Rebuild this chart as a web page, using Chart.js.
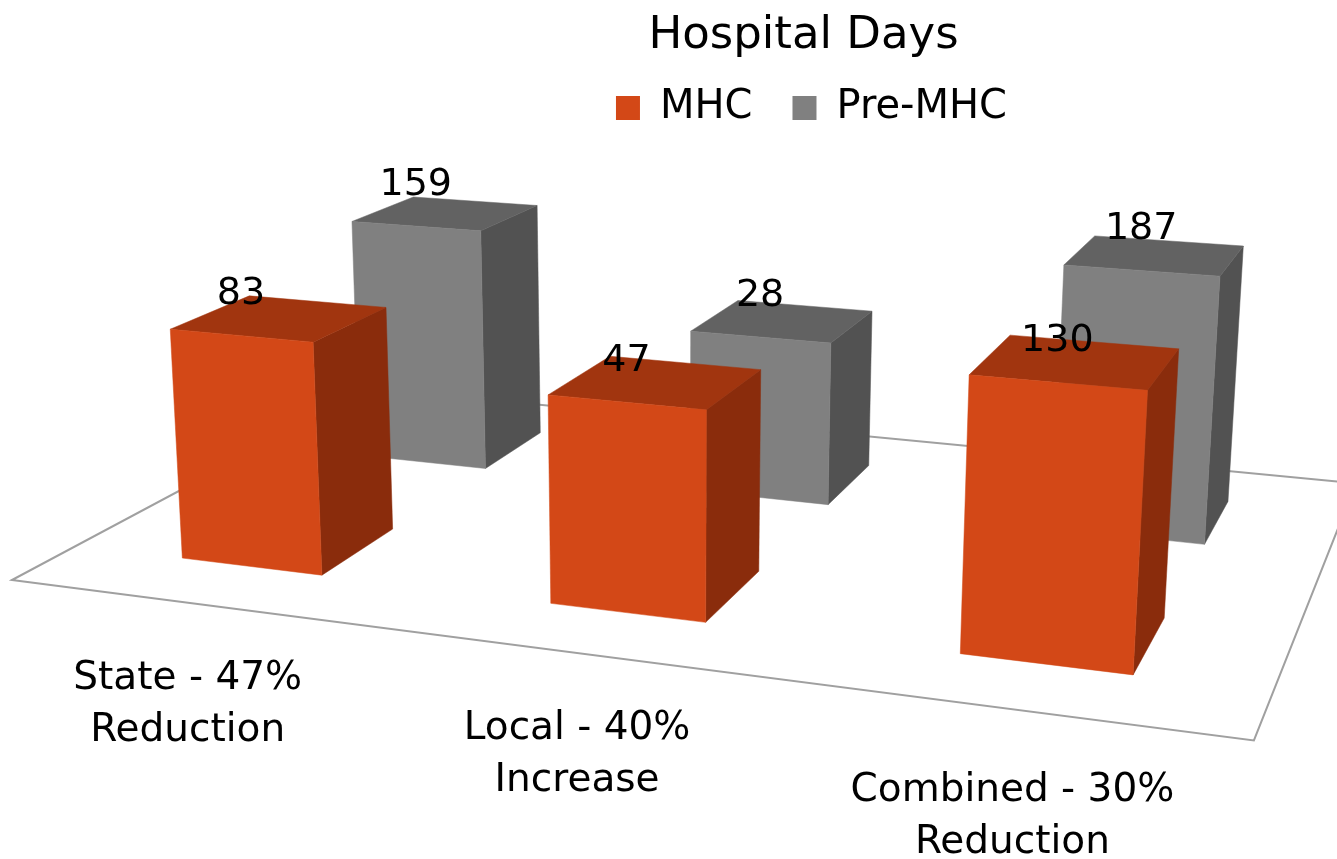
<!DOCTYPE html>
<html>
<head>
<meta charset="utf-8">
<title>Hospital Days</title>
<script src="https://cdn.jsdelivr.net/npm/chart.js@4"></script>
<style>
  html, body { margin: 0; background: #fff; }
  #wrap { width: 1337px; height: 859px; overflow: hidden; }
</style>
</head>
<body>
<div id="wrap"><canvas id="myChart"></canvas></div>
<script>
// values
var categories = [['State - 47%', 'Reduction'], ['Local - 40%', 'Increase'], ['Combined - 30%', 'Reduction']];
var mhcDays = [83, 47, 130];
var preMhcDays = [159, 28, 187];

var fontName = '"DejaVu Sans", sans-serif';

// faces of each row: front, top, right side
var orangeFaces = ['#D34817', '#A1350F', '#8A2C0C'];
var greyFaces = ['#808080', '#626262', '#525252'];
// depth of each row on the floor, 0 = front edge, 1 = back edge
var rowDepth = [[0.1485, 0.35], [0.651, 0.852]];
// how far each category label hangs below the floor's front edge
var labelDrop = [76, 75, 81];

// camera: vanishing points of the three axes, and how far each axis runs
var cam = {
  origin: [12, 580],
  across: [-6800, -300], acrossSpan: -0.1542,
  deep: [1668, -303], deepSpan: 0.2767,
  up: [670, 9800], upSpan: -0.03873
};

function project(u, v, h) {
  var a = u * cam.acrossSpan, b = v * cam.deepSpan, c = h * cam.upSpan;
  var w = 1 + a + b + c;
  return [
    (cam.origin[0] + a * cam.across[0] + b * cam.deep[0] + c * cam.up[0]) / w,
    (cam.origin[1] + a * cam.across[1] + b * cam.deep[1] + c * cam.up[1]) / w
  ];
}

function face(ctx, color, pts) {
  ctx.fillStyle = color;
  ctx.strokeStyle = color;
  ctx.lineWidth = 0.5;
  ctx.beginPath();
  pts.forEach(function(p, i) { i ? ctx.lineTo(p[0], p[1]) : ctx.moveTo(p[0], p[1]); });
  ctx.closePath();
  ctx.fill();
  ctx.stroke();
}

// turn the flat bars of the chart into boxes standing on the floor
var boxes = {
  id: 'boxes',
  afterLayout: function(chart) {
    // legend sits a little right of the title
    chart.legend.left += 8;
    chart.legend.right += 8;
  },
  beforeDatasetsDraw: function(chart) {
    var ctx = chart.ctx, area = chart.chartArea;
    ctx.save();

    ctx.strokeStyle = '#A0A0A0';
    ctx.lineWidth = 2;
    ctx.lineJoin = 'miter';
    ctx.beginPath();
    [[0, 0], [1, 0], [1, 1], [0, 1]].forEach(function(c, i) {
      var p = project(c[0], c[1], 0);
      i ? ctx.lineTo(p[0], p[1]) : ctx.moveTo(p[0], p[1]);
    });
    ctx.closePath();
    ctx.stroke();

    var labels = [];
    // back row first so the front row covers it
    for (var d = chart.data.datasets.length - 1; d >= 0; d--) {
      var faces = chart.data.datasets[d].faces;
      chart.getDatasetMeta(d).data.forEach(function(bar, i) {
        var mid = (bar.x - area.left) / area.width;
        var half = bar.width / 2 / area.width;
        var l = mid - half, r = mid + half;
        var h = (area.bottom - bar.y) / area.height;
        var v0 = rowDepth[d][0], v1 = rowDepth[d][1];
        face(ctx, faces[2], [project(r, v0, 0), project(r, v1, 0), project(r, v1, h), project(r, v0, h)]);
        face(ctx, faces[1], [project(l, v0, h), project(r, v0, h), project(r, v1, h), project(l, v1, h)]);
        face(ctx, faces[0], [project(l, v0, 0), project(r, v0, 0), project(r, v0, h), project(l, v0, h)]);
        labels.push({ at: project(mid, v0, h), text: String(chart.data.datasets[d].data[i]) });
      });
    }

    ctx.fillStyle = '#000';
    ctx.textAlign = 'center';
    ctx.textBaseline = 'middle';
    ctx.font = '38px ' + fontName;
    labels.forEach(function(t) {
      ctx.fillText(t.text, t.at[0], t.at[1] - 41);
    });

    // category labels hang below the front edge of the floor
    ctx.font = '39px ' + fontName;
    chart.data.labels.forEach(function(lines, i) {
      var p = project((i + 0.5) / chart.data.labels.length, 0, 0);
      lines.forEach(function(line, n) {
        ctx.fillText(line, p[0] - 4, p[1] + labelDrop[i] + n * 52);
      });
    });

    ctx.restore();
    return false;
  }
};

var myChart = new Chart(document.getElementById('myChart'), {
  type: 'bar',
  data: {
    labels: categories,
    datasets: [
      { label: 'MHC', data: mhcDays, backgroundColor: orangeFaces[0], faces: orangeFaces, grouped: false },
      { label: 'Pre-MHC', data: preMhcDays, backgroundColor: greyFaces[0], faces: greyFaces, grouped: false }
    ]
  },
  options: {
    responsive: true,
    maintainAspectRatio: false,
    animation: false,
    categoryPercentage: 1,
    barPercentage: 0.391,
    layout: { padding: { left: 270 } },
    scales: {
      x: { display: false },
      y: { display: false, type: 'logarithmic', min: 1, max: 1000 }
    },
    plugins: {
      tooltip: { enabled: false },
      title: {
        display: true,
        text: 'Hospital Days',
        color: '#000',
        fullSize: false,
        font: { family: fontName, size: 45, weight: 'normal' },
        padding: { top: 9, bottom: -15 }
      },
      legend: {
        display: true,
        fullSize: false,
        labels: {
          color: '#000',
          boxWidth: 24,
          boxHeight: 24,
          padding: 40,
          font: { family: fontName, size: 40 }
        }
      }
    }
  },
  plugins: [boxes]
});
</script>
</body>
</html>
